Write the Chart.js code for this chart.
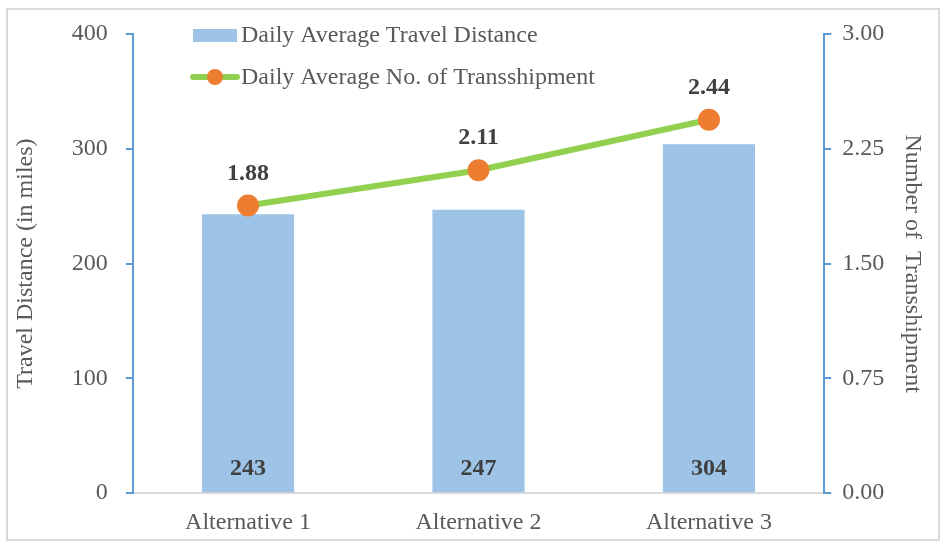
<!DOCTYPE html>
<html lang="en">
<head>
    <meta charset="UTF-8" />
    <title>Travel Distance and Transshipment</title>
    <script src="https://cdn.jsdelivr.net/npm/chart.js"></script>
    <style>
        html, body { margin: 0; padding: 0; background: #fff; }
        #wrap { width: 946px; height: 545px; }
    </style>
</head>
<body>
<div id="wrap"><canvas id="chart" width="946" height="545"></canvas></div>
<script>
    const categories = ['Alternative 1', 'Alternative 2', 'Alternative 3'];
    const distance = [243, 247, 304];
    const transshipments = [1.88, 2.11, 2.44];
    const distanceTicks = [0, 100, 200, 300, 400];
    const transTicks = [0, 0.75, 1.5, 2.25, 3];

    const font = 'Liberation Serif, Times New Roman, serif';
    const textColor = '#595959';

    // frame around the whole chart
    const framePlugin = {
        id: 'frame',
        beforeDraw(chart) {
            const ctx = chart.ctx;
            ctx.save();
            ctx.fillStyle = '#fff';
            ctx.fillRect(0, 0, chart.width, chart.height);
            ctx.strokeStyle = '#d9d9d9';
            ctx.lineWidth = 2;
            ctx.strokeRect(7, 9, chart.width - 14, chart.height - 14);
            ctx.restore();
        }
    };

    // value labels: inside bars at the bottom, above line points
    const labelPlugin = {
        id: 'valueLabels',
        afterDatasetsDraw(chart) {
            const ctx = chart.ctx;
            ctx.save();
            ctx.font = 'bold 24px ' + font;
            ctx.fillStyle = '#404040';
            ctx.textAlign = 'center';
            ctx.textBaseline = 'middle';
            chart.getDatasetMeta(0).data.forEach((b, i) => {
                ctx.fillText(String(distance[i]), b.x, chart.scales.y.bottom - 24);
            });
            chart.getDatasetMeta(1).data.forEach((p, i) => {
                ctx.fillText(transshipments[i].toFixed(2), p.x, p.y - 32);
            });
            ctx.restore();
        }
    };

    // legend drawn over the top of the plot
    const legendPlugin = {
        id: 'overlayLegend',
        afterDraw(chart) {
            const ctx = chart.ctx;
            const ds = chart.data.datasets;
            ctx.save();
            ctx.font = '24px ' + font;
            ctx.textBaseline = 'middle';
            ctx.textAlign = 'left';
            // bar entry
            ctx.fillStyle = ds[0].backgroundColor;
            ctx.fillRect(193, 29, 44, 13);
            ctx.fillStyle = textColor;
            ctx.fillText(ds[0].label, 241, 36);
            // line entry
            ctx.strokeStyle = ds[1].borderColor;
            ctx.lineWidth = 6;
            ctx.lineCap = 'round';
            ctx.beginPath();
            ctx.moveTo(193, 77);
            ctx.lineTo(237, 77);
            ctx.stroke();
            ctx.fillStyle = ds[1].pointBackgroundColor;
            ctx.beginPath();
            ctx.arc(215, 77, 8, 0, Math.PI * 2);
            ctx.fill();
            ctx.fillStyle = textColor;
            ctx.fillText(ds[1].label, 241, 78);
            ctx.restore();
        }
    };

    const ctx = document.getElementById('chart').getContext('2d');
    new Chart(ctx, {
        data: {
            labels: categories,
            datasets: [
                {
                    type: 'bar',
                    label: 'Daily Average Travel Distance',
                    data: distance,
                    yAxisID: 'y',
                    backgroundColor: '#9dc3e6',
                    categoryPercentage: 1,
                    barPercentage: 0.4,
                    order: 1
                },
                {
                    type: 'line',
                    label: 'Daily Average No. of Transshipment',
                    data: transshipments,
                    yAxisID: 'y1',
                    borderColor: '#92d050',
                    borderWidth: 6,
                    pointBackgroundColor: '#ed7d31',
                    pointBorderColor: '#ed7d31',
                    pointRadius: 8,
                    tension: 0,
                    order: 0
                }
            ]
        },
        options: {
            responsive: false,
            animation: false,
            layout: { padding: { left: 11, right: 19, top: 34, bottom: -7 } },
            plugins: {
                legend: { display: false },
                tooltip: { enabled: false }
            },
            scales: {
                x: {
                    grid: { drawOnChartArea: false, drawTicks: false },
                    border: { color: '#d9d9d9', width: 2 },
                    ticks: { color: textColor, font: { family: font, size: 24 }, padding: 15 }
                },
                y: {
                    position: 'left',
                    min: 0,
                    max: 400,
                    afterBuildTicks(axis) { axis.ticks = distanceTicks.map(v => ({ value: v })); },
                    grid: { drawOnChartArea: false, drawTicks: true, tickLength: 7, color: '#5b9bd5', lineWidth: 2 },
                    border: { color: '#5b9bd5', width: 2 },
                    ticks: { color: textColor, font: { family: font, size: 24 }, padding: 18 },
                    title: { display: true, text: 'Travel Distance (in miles)', color: textColor, font: { family: font, size: 24 }, padding: { top: 0, bottom: 14 } }
                },
                y1: {
                    position: 'right',
                    min: 0,
                    max: 3,
                    afterBuildTicks(axis) { axis.ticks = transTicks.map(v => ({ value: v })); },
                    grid: { drawOnChartArea: false, drawTicks: true, tickLength: 7, color: '#5b9bd5', lineWidth: 2 },
                    border: { color: '#5b9bd5', width: 2 },
                    ticks: { color: textColor, font: { family: font, size: 24 }, padding: 11, callback: v => Number(v).toFixed(2) },
                    title: { display: true, text: 'Number of  Transshipment', color: textColor, font: { family: font, size: 24 }, padding: { top: 0, bottom: 3 } }
                }
            }
        },
        plugins: [framePlugin, labelPlugin, legendPlugin]
    });
</script>
</body>
</html>
